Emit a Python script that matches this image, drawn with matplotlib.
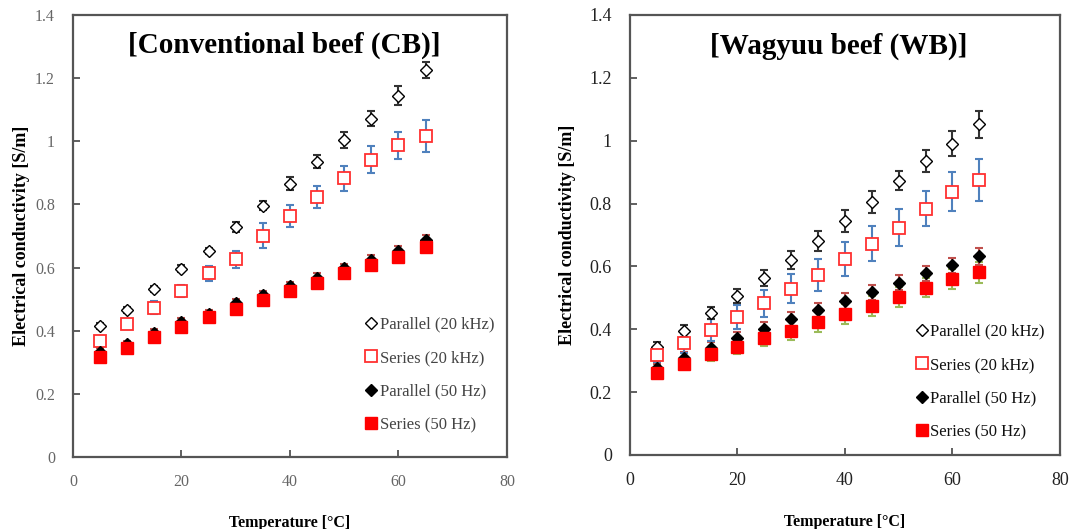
import matplotlib
matplotlib.use("Agg")
import matplotlib.pyplot as plt
import numpy as np

temps = [5, 10, 15, 20, 25, 30, 35, 40, 45, 50, 55, 60, 65]

# Conventional beef (CB)
cb_par20k = [0.416, 0.466, 0.532, 0.597, 0.652, 0.728, 0.796, 0.866, 0.936, 1.005, 1.072, 1.144, 1.227]
cb_par20k_err = [0.01, 0.01, 0.01, 0.01, 0.01, 0.015, 0.015, 0.02, 0.02, 0.025, 0.025, 0.03, 0.025]
cb_ser20k = [0.368, 0.420, 0.473, 0.526, 0.582, 0.626, 0.701, 0.762, 0.823, 0.883, 0.942, 0.988, 1.016]
cb_ser20k_err = [0.015, 0.015, 0.02, 0.02, 0.024, 0.028, 0.04, 0.035, 0.035, 0.04, 0.043, 0.043, 0.05]
cb_par50 = [0.333, 0.357, 0.394, 0.429, 0.454, 0.488, 0.513, 0.541, 0.568, 0.598, 0.624, 0.653, 0.688]
cb_par50_err = [0.012, 0.012, 0.012, 0.012, 0.012, 0.012, 0.012, 0.014, 0.014, 0.014, 0.015, 0.015, 0.015]
cb_ser50 = [0.317, 0.346, 0.379, 0.411, 0.443, 0.470, 0.496, 0.525, 0.552, 0.582, 0.607, 0.635, 0.664]
cb_ser50_err = [0.015, 0.015, 0.015, 0.015, 0.015, 0.015, 0.015, 0.015, 0.015, 0.015, 0.015, 0.015, 0.015]

# Wagyuu beef (WB)
wb_par20k = [0.343, 0.395, 0.452, 0.506, 0.563, 0.621, 0.681, 0.744, 0.805, 0.872, 0.934, 0.990, 1.052]
wb_par20k_err = [0.017, 0.019, 0.02, 0.022, 0.026, 0.028, 0.032, 0.034, 0.035, 0.03, 0.035, 0.04, 0.043]
wb_ser20k = [0.317, 0.356, 0.398, 0.439, 0.482, 0.529, 0.572, 0.623, 0.672, 0.723, 0.784, 0.838, 0.875]
wb_ser20k_err = [0.02, 0.03, 0.036, 0.037, 0.042, 0.046, 0.051, 0.055, 0.056, 0.059, 0.056, 0.063, 0.068]
wb_par50 = [0.276, 0.310, 0.340, 0.372, 0.402, 0.433, 0.461, 0.490, 0.518, 0.548, 0.578, 0.603, 0.632]
wb_par50_err = [0.015, 0.018, 0.02, 0.02, 0.022, 0.022, 0.024, 0.024, 0.024, 0.024, 0.024, 0.025, 0.027]
wb_ser50 = [0.261, 0.291, 0.320, 0.345, 0.372, 0.396, 0.423, 0.449, 0.473, 0.502, 0.532, 0.559, 0.581]
wb_ser50_err = [0.015, 0.018, 0.022, 0.024, 0.026, 0.03, 0.032, 0.032, 0.032, 0.032, 0.03, 0.032, 0.033]

legend_labels = ["Parallel (20 kHz)", "Series (20 kHz)", "Parallel (50 Hz)", "Series (50 Hz)"]
titles = ["[Conventional beef (CB)]", "[Wagyuu beef (WB)]"]
ylabel = "Electrical conductivity [S/m]"
xlabels = ["Temperature [\u00b0C]", "Temperature [\u00b0C]"]

plt.rcParams['font.family'] = ['Liberation Serif', 'DejaVu Serif']

fig = plt.figure(figsize=(10.76, 5.29), dpi=100)
ax1 = fig.add_axes([0.0678, 0.1361, 0.4033, 0.8355])
ax2 = fig.add_axes([0.5855, 0.1399, 0.3996, 0.8318])

datasets = [
    (ax1, cb_par20k, cb_par20k_err, cb_ser20k, cb_ser20k_err, cb_par50, cb_par50_err, cb_ser50, cb_ser50_err),
    (ax2, wb_par20k, wb_par20k_err, wb_ser20k, wb_ser20k_err, wb_par50, wb_par50_err, wb_ser50, wb_ser50_err),
]
style = [
    dict(tickc='#666666', ticksize=11.5, ypad=13, xpad=12, title_y=0.896, ylabelpad=3.5,
         leg_anchor=(1.005, 0.02), legc='#444444'),
    dict(tickc='#222222', ticksize=13, ypad=13, xpad=12, title_y=0.892, ylabelpad=9.5,
         leg_anchor=(1.0, 0.0), legc='#111111'),
]

for i, (ax, p20, p20e, s20, s20e, p50, p50e, s50, s50e) in enumerate(datasets):
    st = style[i]
    ax.errorbar(temps, s50, yerr=s50e, fmt='none', ecolor='#9bbb59', elinewidth=1.5, capsize=3, capthick=1.5, zorder=2)
    ax.errorbar(temps, p50, yerr=p50e, fmt='none', ecolor='#c0504d', elinewidth=1.5, capsize=3, capthick=1.5, zorder=2)
    ax.errorbar(temps, s20, yerr=s20e, fmt='none', ecolor='#4f81bd', elinewidth=1.5, capsize=3, capthick=1.5, zorder=2)
    ax.errorbar(temps, p20, yerr=p20e, fmt='none', ecolor='#333333', elinewidth=1.5, capsize=3, capthick=1.5, zorder=2)

    h1, = ax.plot(temps, p20, linestyle='none', marker='D', markersize=5.8, markerfacecolor='white',
                  markeredgecolor='black', markeredgewidth=1.0, zorder=3)
    h2, = ax.plot(temps, s20, linestyle='none', marker='s', markersize=8, markerfacecolor='white',
                  markeredgecolor='#ff3030', markeredgewidth=1.3, zorder=3)
    h3, = ax.plot(temps, p50, linestyle='none', marker='D', markersize=5.8, markerfacecolor='black',
                  markeredgecolor='black', zorder=4)
    h4, = ax.plot(temps, s50, linestyle='none', marker='s', markersize=8, markerfacecolor='#ff0000',
                  markeredgecolor='#ff0000', zorder=5)

    ax.set_xlim(0, 80)
    ax.set_ylim(0, 1.4)
    ax.set_xticks([0, 20, 40, 60, 80])
    ax.set_yticks([0, 0.2, 0.4, 0.6, 0.8, 1.0, 1.2, 1.4])
    ax.set_yticklabels(['0', '0.2', '0.4', '0.6', '0.8', '1', '1.2', '1.4'])
    ax.tick_params(direction='in', length=5, width=1.2, colors='#444444', labelcolor=st['tickc'],
                   labelsize=st['ticksize'], top=False, right=False)
    ax.tick_params(axis='y', pad=st['ypad'])
    ax.tick_params(axis='x', pad=st['xpad'])
    for sp in ax.spines.values():
        sp.set_color('#555555')
        sp.set_linewidth(1.6)

    ax.set_title(titles[i], fontsize=21, fontweight='bold', x=0.486, y=st['title_y'])
    ax.set_ylabel(ylabel, fontsize=13, fontweight='bold', labelpad=st['ylabelpad'])
    ax.set_xlabel(xlabels[i], fontsize=11.5, fontweight='bold', labelpad=18)

    leg = ax.legend([h1, h2, h3, h4], legend_labels, loc='lower right', bbox_to_anchor=st['leg_anchor'],
                    frameon=False, fontsize=12, handlelength=0.6, handletextpad=0.2, labelspacing=1.05,
                    markerscale=1.0)
    for t in leg.get_texts():
        t.set_color(st['legc'])

fig.savefig('out.png', dpi=100, facecolor='white')
